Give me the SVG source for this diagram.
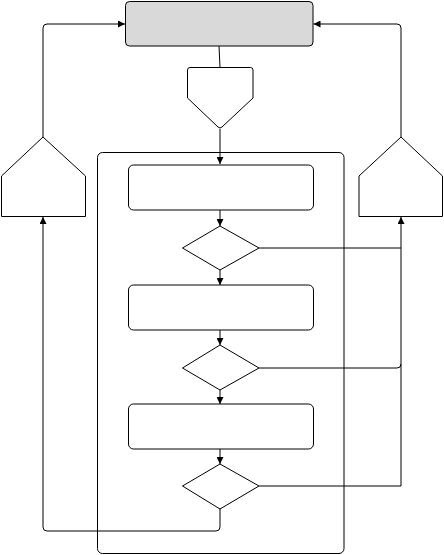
<svg xmlns="http://www.w3.org/2000/svg" width="444" height="555" viewBox="0 0 444 555">
<style>
.n{fill:#fff;stroke:#000;stroke-width:1}
.g{fill:#d9d9d9;stroke:#000;stroke-width:1}
.c{fill:none;stroke:#000;stroke-width:1}
</style>
<defs>
<marker id="a" viewBox="0 0 10 10" refX="10" refY="5" markerWidth="7" markerHeight="7" markerUnits="userSpaceOnUse" orient="auto"><path d="M0,0 L10,5 L0,10 z" fill="#000"/></marker>
</defs>
<rect width="444" height="555" fill="#fff"/>
<g id="container"><rect class="n" x="97.5" y="152.5" width="246.5" height="401" rx="5"/></g>
<g id="top"><rect class="g" x="125.5" y="1.5" width="187.5" height="44.5" rx="4"/></g>
<g id="offpage"><path class="n" d="M190,67.5 L250.5,67.5 Q253,67.5 253,70 L253,98 L222,127 Q220,129 218,127 L187.5,98 L187.5,70 Q187.5,67.5 190,67.5 z"/></g>
<g id="left"><path class="n" d="M1.5,216.5 L1.5,176 L43,137 L85.5,176 L85.5,216.5 z"/></g>
<g id="right"><path class="n" d="M359,216.5 L359,176 L401,137 L442.5,176 L442.5,216.5 z"/></g>
<g id="p1"><rect class="n" x="128.5" y="165" width="185" height="45" rx="5"/></g>
<g id="d1"><path class="n" d="M220,226 L259,248 L220,270 L182.5,248 z"/></g>
<g id="p2"><rect class="n" x="128.5" y="285" width="185" height="45" rx="5"/></g>
<g id="d2"><path class="n" d="M220,345 L259,368 L220,390 L182.5,368 z"/></g>
<g id="p3"><rect class="n" x="128.5" y="404" width="185" height="45" rx="5"/></g>
<g id="d3"><path class="n" d="M220,464 L259,486 L220,509 L182.5,486 z"/></g>
<g id="connectors">
<path class="c" d="M219,46 L220,67.5"/>
<path class="c" d="M220,129 L220,164" marker-end="url(#a)"/>
<path class="c" d="M220,210 L220,226" marker-end="url(#a)"/>
<path class="c" d="M220,270 L220,285" marker-end="url(#a)"/>
<path class="c" d="M220,330 L220,345" marker-end="url(#a)"/>
<path class="c" d="M220,390 L220,404" marker-end="url(#a)"/>
<path class="c" d="M220,449 L220,464" marker-end="url(#a)"/>
<path class="c" d="M43,137 L43,28 Q43,24 47,24 L125,24" marker-end="url(#a)"/>
<path class="c" d="M401,137 L401,28 Q401,24 397,24 L313.5,24" marker-end="url(#a)"/>
<path class="c" d="M259,248 L401,248"/>
<path class="c" d="M259,368 L397,368 Q401,368 401,364"/>
<path class="c" d="M259,486 L401,486 L401,217" marker-end="url(#a)"/>
<path class="c" d="M220,509 L220,527 Q220,531 216,531 L47,531 Q43,531 43,527 L43,217" marker-end="url(#a)"/>
</g>
</svg>
